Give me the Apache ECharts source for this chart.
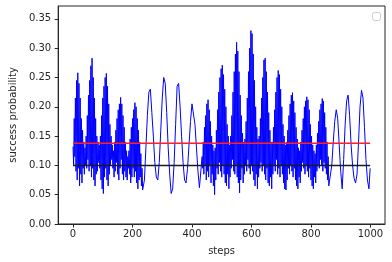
<!DOCTYPE html>
<html>
<head>
<meta charset="utf-8">
<script src="https://cdn.jsdelivr.net/npm/echarts@6/dist/echarts.min.js"></script>
<style>
  html, body { margin: 0; padding: 0; background: #fff; }
  #chart { width: 392px; height: 262px; }
</style>
</head>
<body>
<div id="chart"></div>
<script>
// --- part A (steps 0-234): dense fast oscillation, samples alternate peak / dip
const stepsA = [
  0, 2, 4, 6, 8, 10, 12, 14, 16, 18, 20, 22, 24, 26, 28, 30, 32, 34, 36, 38,
  40, 42, 44, 46, 48, 50, 52, 54, 56, 58, 60, 62, 64, 66, 68, 70, 72, 74, 76, 78,
  80, 82, 84, 86, 88, 90, 92, 94, 96, 98, 100, 102, 104, 106, 108, 110, 112, 114, 116, 118,
  120, 122, 124, 126, 128, 130, 132, 134, 136, 138, 140, 142, 144, 146, 148, 150, 152, 154, 156, 158,
  160, 162, 164, 166, 168, 170, 172, 174, 176, 178, 180, 182, 184, 186, 188, 190, 192, 194, 196, 198,
  200, 202, 204, 206, 208, 210, 212, 214, 216, 218, 220, 222, 224, 226, 228, 230, 232, 234
];
const peaksA = [
  0.132, 0.180, 0.215, 0.245, 0.258, 0.240, 0.215, 0.180, 0.160, 0.140, 0.130, 0.150,
  0.185, 0.220, 0.245, 0.270, 0.283, 0.250, 0.215, 0.180, 0.150, 0.140, 0.135,
  0.150, 0.185, 0.215, 0.235, 0.250, 0.257, 0.235, 0.205, 0.170, 0.150, 0.135, 0.125,
  0.140, 0.160, 0.180, 0.195, 0.205, 0.216, 0.205, 0.185, 0.165, 0.140, 0.125, 0.115,
  0.125, 0.145, 0.165, 0.180, 0.195, 0.207, 0.200, 0.180, 0.160, 0.140, 0.120, 0.095
];
const dipsA = [
  0.100, 0.115, 0.090, 0.075, 0.095, 0.065, 0.085, 0.070, 0.095, 0.085,
  0.100, 0.095, 0.110, 0.090, 0.100, 0.080, 0.095, 0.075, 0.065, 0.085,
  0.090, 0.105, 0.095, 0.075, 0.060, 0.052, 0.080, 0.095, 0.075, 0.065,
  0.085, 0.100, 0.110, 0.095, 0.080, 0.090, 0.105, 0.085, 0.075, 0.095,
  0.110, 0.085, 0.075, 0.090, 0.080, 0.075, 0.095, 0.085, 0.070, 0.080,
  0.095, 0.080, 0.090, 0.070, 0.060, 0.075, 0.080, 0.065, 0.058
];

// --- part B (steps 240-430): slower, cleaner waves
const stepsB = [
  240, 245, 250, 255, 260, 265, 270, 275, 280, 285, 290, 295, 300, 305, 310, 315, 320, 325, 330, 335,
  340, 345, 350, 355, 360, 365, 370, 375, 380, 385, 390, 395, 400, 405, 410, 415, 420, 425, 430
];
const probB = [
  0.075, 0.130, 0.185, 0.225, 0.230, 0.190, 0.150, 0.105, 0.080, 0.075,
  0.105, 0.160, 0.215, 0.250, 0.240, 0.190, 0.130, 0.085, 0.052, 0.060,
  0.105, 0.170, 0.235, 0.240, 0.200, 0.150, 0.105, 0.075, 0.070, 0.095,
  0.135, 0.175, 0.205, 0.205, 0.170, 0.130, 0.090, 0.062, 0.065
];

// --- part C (steps 434-860): dense fast oscillation again
const stepsC = [
  434, 436, 438, 440, 442, 444, 446, 448, 450, 452, 454, 456, 458, 460, 462, 464, 466, 468, 470, 472,
  474, 476, 478, 480, 482, 484, 486, 488, 490, 492, 494, 496, 498, 500, 502, 504, 506, 508, 510, 512,
  514, 516, 518, 520, 522, 524, 526, 528, 530, 532, 534, 536, 538, 540, 542, 544, 546, 548, 550, 552,
  554, 556, 558, 560, 562, 564, 566, 568, 570, 572, 574, 576, 578, 580, 582, 584, 586, 588, 590, 592,
  594, 596, 598, 600, 602, 604, 606, 608, 610, 612, 614, 616, 618, 620, 622, 624, 626, 628, 630, 632,
  634, 636, 638, 640, 642, 644, 646, 648, 650, 652, 654, 656, 658, 660, 662, 664, 666, 668, 670, 672,
  674, 676, 678, 680, 682, 684, 686, 688, 690, 692, 694, 696, 698, 700, 702, 704, 706, 708, 710, 712,
  714, 716, 718, 720, 722, 724, 726, 728, 730, 732, 734, 736, 738, 740, 742, 744, 746, 748, 750, 752,
  754, 756, 758, 760, 762, 764, 766, 768, 770, 772, 774, 776, 778, 780, 782, 784, 786, 788, 790, 792,
  794, 796, 798, 800, 802, 804, 806, 808, 810, 812, 814, 816, 818, 820, 822, 824, 826, 828, 830, 832,
  834, 836, 838, 840, 842, 844, 846, 848, 850, 852, 854, 856, 858, 860
];
const peaksC = [
  0.115, 0.140, 0.165, 0.185, 0.205, 0.212, 0.195, 0.175, 0.150, 0.135, 0.125,
  0.130, 0.160, 0.195, 0.225, 0.250, 0.265, 0.271, 0.255, 0.230, 0.200, 0.170, 0.150, 0.135,
  0.150, 0.185, 0.225, 0.260, 0.290, 0.310, 0.295, 0.260, 0.220, 0.185, 0.155, 0.140,
  0.145, 0.175, 0.215, 0.260, 0.300, 0.330, 0.325, 0.290, 0.245, 0.200, 0.165, 0.145,
  0.150, 0.180, 0.215, 0.250, 0.280, 0.283, 0.260, 0.225, 0.190, 0.160, 0.140,
  0.140, 0.165, 0.195, 0.225, 0.250, 0.262, 0.255, 0.230, 0.200, 0.170, 0.150, 0.135,
  0.140, 0.160, 0.185, 0.205, 0.220, 0.224, 0.210, 0.190, 0.165, 0.145, 0.130, 0.125,
  0.140, 0.160, 0.180, 0.200, 0.210, 0.217, 0.212, 0.195, 0.170, 0.150, 0.135, 0.125, 0.120,
  0.135, 0.155, 0.175, 0.195, 0.205, 0.214, 0.210, 0.190, 0.165, 0.140, 0.115
];
const dipsC = [
  0.095, 0.085, 0.100, 0.075, 0.090, 0.080, 0.100, 0.070, 0.085, 0.065,
  0.050, 0.075, 0.095, 0.085, 0.105, 0.090, 0.080, 0.100, 0.085, 0.070,
  0.065, 0.085, 0.060, 0.080, 0.095, 0.110, 0.090, 0.085, 0.100, 0.080,
  0.070, 0.053, 0.075, 0.095, 0.070, 0.085, 0.100, 0.090, 0.110, 0.095,
  0.085, 0.100, 0.090, 0.075, 0.065, 0.085, 0.060, 0.080, 0.095, 0.105,
  0.090, 0.100, 0.085, 0.075, 0.095, 0.070, 0.065, 0.080, 0.060, 0.085,
  0.100, 0.090, 0.110, 0.085, 0.095, 0.080, 0.100, 0.085, 0.070, 0.060,
  0.058, 0.075, 0.095, 0.085, 0.100, 0.090, 0.080, 0.095, 0.075, 0.065,
  0.060, 0.080, 0.070, 0.090, 0.105, 0.095, 0.085, 0.100, 0.090, 0.080,
  0.095, 0.075, 0.065, 0.060, 0.080, 0.070, 0.090, 0.100, 0.095, 0.110,
  0.100, 0.090, 0.105, 0.095, 0.085, 0.075, 0.065
];

// --- part D (steps 865-999): slower waves to the end
const stepsD = [
  865, 870, 875, 880, 885, 890, 895, 900, 905, 910, 915, 920, 925, 930, 935, 940, 945, 950, 955, 960,
  965, 970, 975, 980, 985, 990, 995, 999
];
const probD = [
  0.062, 0.100, 0.140, 0.175, 0.195, 0.180, 0.135, 0.090, 0.060, 0.110,
  0.170, 0.210, 0.220, 0.185, 0.135, 0.100, 0.078, 0.070, 0.085, 0.140,
  0.200, 0.228, 0.215, 0.165, 0.110, 0.075, 0.060, 0.095
];

// horizontal reference levels
const lineSpan = [0, 999];
const redLevel = 0.138;
const blackLevel = 0.1;

const xTicks = [0, 200, 400, 600, 800, 1000];
const yTicks = [0, 0.05, 0.1, 0.15, 0.2, 0.25, 0.3, 0.35];

// dense parts: even samples take the peak list, odd samples the dip list
function alternate(steps, peaks, dips) {
  return steps.map((s, i) => [s, i % 2 === 0 ? peaks[i / 2] : dips[(i - 1) / 2]]);
}
const blueData = []
  .concat(alternate(stepsA, peaksA, dipsA))
  .concat(stepsB.map((s, i) => [s, probB[i]]))
  .concat(alternate(stepsC, peaksC, dipsC))
  .concat(stepsD.map((s, i) => [s, probD[i]]));

const textColor = '#262626';

const chart = echarts.init(document.getElementById('chart'), null, { renderer: 'canvas' });

chart.setOption({
  animation: false,
  backgroundColor: '#fff',
  grid: {
    left: 50, right: 7, top: 6, bottom: 38,
    show: true, borderColor: '#262626', borderWidth: 1
  },
  xAxis: {
    type: 'value',
    min: -50, max: 1049,
    name: 'steps',
    nameLocation: 'middle',
    nameGap: 22,
    nameTextStyle: { fontFamily: 'DejaVu Sans', fontSize: 10, color: textColor },
    axisLine: { show: true, onZero: false, lineStyle: { color: '#262626' } },
    axisTick: { show: true, inside: false, length: 3.5, customValues: xTicks, lineStyle: { color: '#262626' } },
    axisLabel: {
      customValues: xTicks, margin: 5,
      fontFamily: 'DejaVu Sans', fontSize: 10, color: textColor,
      formatter: v => String(v)
    },
    splitLine: { show: false }
  },
  yAxis: {
    type: 'value',
    min: 0, max: 0.372,
    name: 'success probability',
    nameLocation: 'middle',
    nameGap: 37,
    nameTextStyle: { fontFamily: 'DejaVu Sans', fontSize: 10, color: textColor },
    axisLine: { show: true, onZero: false, lineStyle: { color: '#262626' } },
    axisTick: { show: true, inside: false, length: 3.5, customValues: yTicks, lineStyle: { color: '#262626' } },
    axisLabel: {
      customValues: yTicks, margin: 7,
      fontFamily: 'DejaVu Sans', fontSize: 10, color: textColor,
      formatter: v => v.toFixed(2)
    },
    splitLine: { show: false }
  },
  graphic: [
    {
      type: 'rect',
      right: 11, top: 12,
      shape: { width: 8, height: 8, r: 2 },
      style: { fill: '#fff', stroke: '#cccccc', lineWidth: 1 }
    }
  ],
  series: [
    {
      type: 'line',
      data: blueData,
      showSymbol: false,
      lineStyle: { color: '#0000ff', width: 1 },
      z: 2
    },
    {
      type: 'line',
      data: lineSpan.map(s => [s, redLevel]),
      showSymbol: false,
      lineStyle: { color: '#ff2020', width: 1.5 },
      z: 3
    },
    {
      type: 'line',
      data: lineSpan.map(s => [s, blackLevel]),
      showSymbol: false,
      lineStyle: { color: '#1a1a1a', width: 1.5 },
      z: 4
    }
  ]
});
</script>
</body>
</html>
